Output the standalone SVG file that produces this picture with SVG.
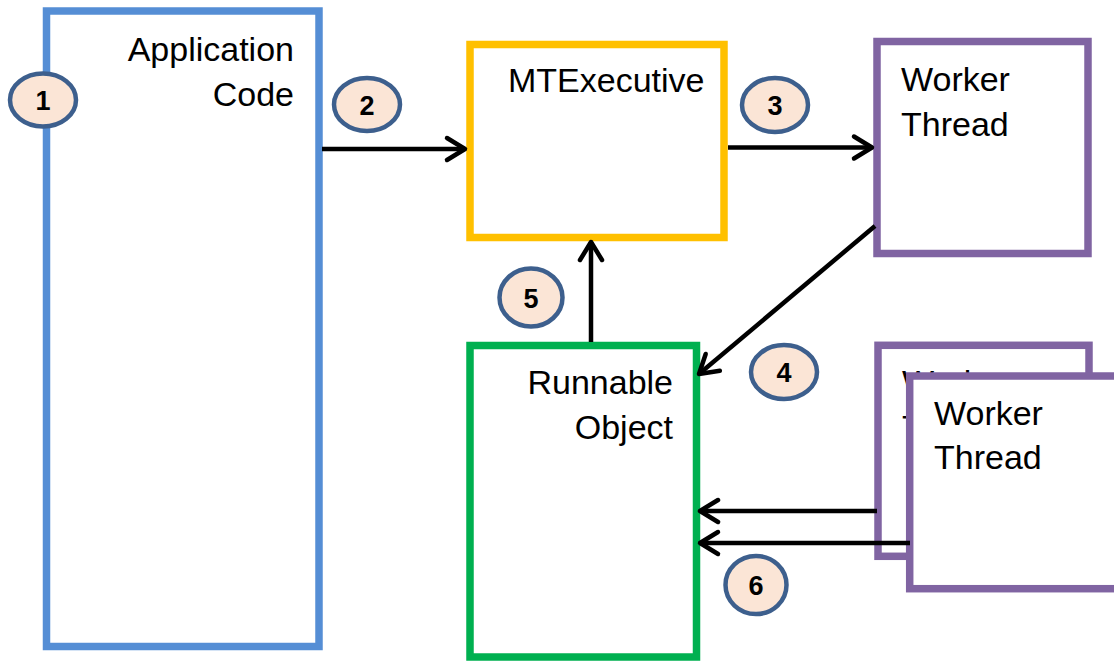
<svg xmlns="http://www.w3.org/2000/svg" width="1114" height="662" viewBox="0 0 1114 662">
  <style>
    .box { fill: #ffffff; stroke-width: 7.5; }
    .app { stroke: #558ED5; }
    .exec { stroke: #FFC000; }
    .worker { stroke: #8064A2; }
    .runnable { stroke: #00B050; }
    .label { font-family: "Liberation Sans", Arial, sans-serif; font-size: 34px; fill: #000000; }
    .right { text-anchor: end; }
    .wire { fill: none; stroke: #000000; stroke-width: 4.5; marker-end: url(#chevron); }
    .badge ellipse { fill: #FBE5D6; stroke: #3D5F8D; stroke-width: 4.5; }
    .badge text { font-family: "Liberation Sans", Arial, sans-serif; font-size: 27px; font-weight: bold; fill: #000000; text-anchor: middle; }
  </style>
  <defs>
    <marker id="chevron" markerUnits="userSpaceOnUse" viewBox="-26 -16 30 32" refX="0" refY="0" markerWidth="30" markerHeight="32" orient="auto" overflow="visible">
      <path d="M -18 -11 L 0 0 L -18 11" fill="none" stroke="#000000" stroke-width="4.5" stroke-linecap="round" stroke-linejoin="round"/>
    </marker>
  </defs>

  <rect width="1114" height="662" fill="#ffffff"/>

  <g id="application-code">
    <rect class="box app" x="46.5" y="11" width="272.5" height="635.5"/>
    <text class="label right" x="294" y="61">Application</text>
    <text class="label right" x="294" y="106">Code</text>
  </g>

  <g id="mtexecutive">
    <rect class="box exec" x="470" y="44.5" width="254" height="193"/>
    <text class="label" x="508" y="92">MTExecutive</text>
  </g>

  <g id="worker-thread-1">
    <rect class="box worker" x="877" y="41.5" width="211" height="212"/>
    <text class="label" x="901" y="91">Worker</text>
    <text class="label" x="901" y="136">Thread</text>
  </g>

  <g id="runnable-object">
    <rect class="box runnable" x="470" y="345.5" width="226.5" height="311.5"/>
    <text class="label right" x="673" y="394">Runnable</text>
    <text class="label right" x="673" y="439">Object</text>
  </g>

  <!-- second worker sits behind the third one, which hides most of its label -->
  <g id="worker-thread-2">
    <rect class="box worker" x="878" y="345.3" width="211" height="211"/>
    <text class="label" x="902" y="394">Worker</text>
    <text class="label" x="902" y="439">Thread</text>
  </g>

  <g id="worker-thread-3">
    <rect class="box worker" x="909.7" y="376" width="211" height="212.7"/>
    <text class="label" x="934" y="425">Worker</text>
    <text class="label" x="934" y="469">Thread</text>
  </g>

  <g id="connectors">
    <line class="wire" x1="322" y1="149" x2="465" y2="149"/>
    <line class="wire" x1="728" y1="147.5" x2="872" y2="147.5"/>
    <line class="wire" x1="875" y1="226" x2="699" y2="374"/>
    <line class="wire" x1="591" y1="342" x2="591" y2="242"/>
    <line class="wire" x1="877" y1="511" x2="700" y2="511"/>
    <line class="wire" x1="910" y1="543" x2="700" y2="543"/>
  </g>

  <g id="step-1" class="badge">
    <ellipse cx="43" cy="100" rx="33" ry="26.5"/>
    <text x="43" y="110">1</text>
  </g>
  <g id="step-2" class="badge">
    <ellipse cx="367" cy="104.5" rx="33" ry="26.5"/>
    <text x="367" y="114.5">2</text>
  </g>
  <g id="step-3" class="badge">
    <ellipse cx="775" cy="105" rx="33" ry="27"/>
    <text x="775" y="115">3</text>
  </g>
  <g id="step-4" class="badge">
    <ellipse cx="784" cy="372" rx="33" ry="27"/>
    <text x="784" y="382">4</text>
  </g>
  <g id="step-5" class="badge">
    <ellipse cx="531" cy="297.5" rx="31.5" ry="29"/>
    <text x="531" y="307.5">5</text>
  </g>
  <g id="step-6" class="badge">
    <ellipse cx="756" cy="585" rx="30.5" ry="29"/>
    <text x="756" y="595">6</text>
  </g>
</svg>
